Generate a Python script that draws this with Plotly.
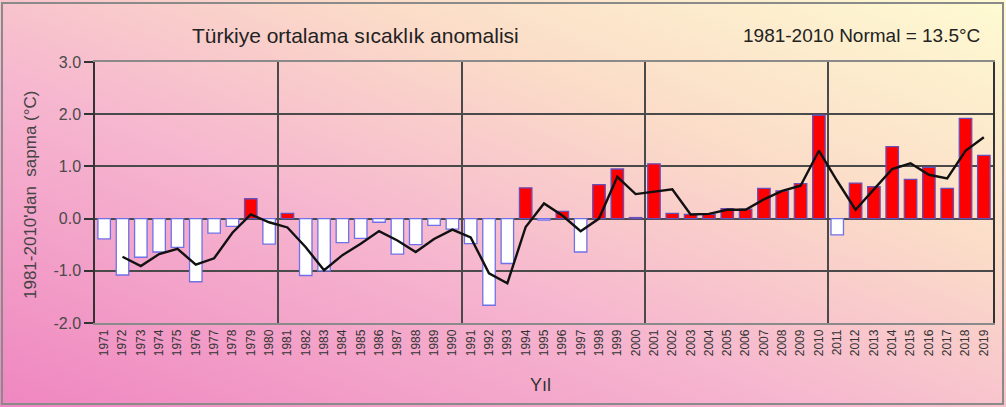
import base64
import plotly.graph_objects as go

years = list(range(1971, 2020))
anomaly = [
    -0.39, -1.08, -0.74, -0.64, -0.55, -1.21, -0.28, -0.15, 0.38, -0.49,   # 1971-1980
    0.10, -1.09, -1.00, -0.46, -0.38, -0.07, -0.68, -0.50, -0.13, -0.20,   # 1981-1990
    -0.48, -1.66, -0.86, 0.59, -0.03, 0.14, -0.64, 0.65, 0.95, 0.02,       # 1991-2000
    1.05, 0.10, 0.08, 0.08, 0.19, 0.18, 0.58, 0.53, 0.67, 1.98,            # 2001-2010
    -0.31, 0.68, 0.61, 1.38, 0.75, 0.98, 0.58, 1.92, 1.21,                 # 2011-2019
]
moving_avg = [
    None, -0.73, -0.91, -0.68, -0.58, -0.88, -0.76, -0.27, 0.08, -0.07,
    -0.17, -0.55, -0.99, -0.70, -0.48, -0.24, -0.42, -0.64, -0.39, -0.21,
    -0.36, -1.05, -1.24, -0.16, 0.29, 0.06, -0.24, 0.00, 0.80, 0.47,
    0.52, 0.56, 0.08, 0.09, 0.17, 0.17, 0.37, 0.53, 0.63, 1.30,
    0.72, 0.17, 0.56, 0.95, 1.06, 0.84, 0.77, 1.30, 1.56,
]
tick_labels = [str(y) for y in years]
decade_bounds = [1980.5, 1990.5, 2000.5, 2010.5]
y_ticks = [-2, -1, 0, 1, 2, 3]
y_tick_labels = ["-2.0", "-1.0", "0.0", "1.0", "2.0", "3.0"]

W, H = 1006, 407
L, R, T, B = 95, 13, 62, 84
pw, ph = W - L - R, H - T - B

bar_fill = ["#ff0000" if v >= 0 else "#ffffff" for v in anomaly]
bar_line = ["#6a4fb8" if v >= 0 else "#7070e8" for v in anomaly]

fig = go.Figure()
fig.add_trace(go.Bar(
    x=years, y=anomaly, width=0.68,
    marker=dict(color=bar_fill, line=dict(color=bar_line, width=1.3)),
    showlegend=False, hoverinfo="skip",
))
fig.add_trace(go.Scatter(
    x=years, y=moving_avg, mode="lines",
    line=dict(color="#111111", width=2.4),
    showlegend=False, hoverinfo="skip",
))

svg = f'''<svg xmlns="http://www.w3.org/2000/svg" width="{W}" height="{H}" viewBox="0 0 {W} {H}" preserveAspectRatio="none">
<defs><linearGradient id="g" x1="0" y1="1" x2="1" y2="0">
<stop offset="0" stop-color="#ef86c0"/>
<stop offset="0.4" stop-color="#f6b6cf"/>
<stop offset="0.68" stop-color="#fbdcc8"/>
<stop offset="1" stop-color="#fefbd2"/>
</linearGradient></defs>
<rect x="0" y="0" width="{W}" height="{H}" fill="url(#g)"/>
<rect x="2" y="3" width="{W-5}" height="{H-6}" fill="none" stroke="#8a8a8a" stroke-width="2"/>
</svg>'''
src = "data:image/svg+xml;base64," + base64.b64encode(svg.encode()).decode()

fig.update_layout(
    width=W, height=H,
    margin=dict(l=L, r=R, t=T, b=B, pad=0),
    paper_bgcolor="rgba(0,0,0,0)",
    plot_bgcolor="#ffffff",
    bargap=0.3,
    images=[dict(
        source=src, xref="paper", yref="paper",
        x=-L / pw, y=1 + T / ph, sizex=W / pw, sizey=H / ph,
        xanchor="left", yanchor="top", sizing="stretch", layer="below",
    )],
    xaxis=dict(
        range=[1970.5, 2019.5], tickmode="array", tickvals=years, ticktext=tick_labels,
        tickangle=-90, tickfont=dict(family="Arial", size=12, color="#333333"),
        showgrid=False, zeroline=False, ticks="", automargin=False,
        showline=True, linecolor="#8a8a8a", linewidth=1.5, mirror=True,
        minor=dict(tickmode="array", tickvals=decade_bounds, showgrid=True,
                   gridcolor="#4a4a4a", gridwidth=1.5, ticks=""),
    ),
    yaxis=dict(
        range=[-2, 3], tickmode="array", tickvals=y_ticks, ticktext=y_tick_labels,
        tickfont=dict(family="Arial", size=16, color="#4a4a4a"),
        showgrid=True, gridcolor="#4a4a4a", gridwidth=1.5, automargin=False,
        zeroline=True, zerolinecolor="#4a4a4a", zerolinewidth=1.5,
        ticks="outside", ticklen=9, tickcolor="#333333", tickwidth=1.5,
        showline=True, linecolor="#333333", linewidth=1.5, mirror=True,
    ),
    annotations=[
        dict(text="Türkiye ortalama sıcaklık anomalisi", xref="paper", yref="paper",
             x=(355 - L) / pw, y=1 + (T - 35) / ph, showarrow=False,
             xanchor="center", yanchor="middle",
             font=dict(family="Arial", size=21, color="#222222")),
        dict(text="1981-2010 Normal = 13.5°C", xref="paper", yref="paper",
             x=(861 - L) / pw, y=1 + (T - 35) / ph, showarrow=False,
             xanchor="center", yanchor="middle",
             font=dict(family="Arial", size=19, color="#222222")),
        dict(text="1981-2010'dan  sapma (°C)", xref="paper", yref="paper",
             x=(30 - L) / pw, y=(H - B - 195) / ph, showarrow=False, textangle=-90,
             xanchor="center", yanchor="middle",
             font=dict(family="Arial", size=17, color="#444444")),
        dict(text="Yıl", xref="paper", yref="paper",
             x=(540 - L) / pw, y=-(385 - (H - B)) / ph, showarrow=False,
             xanchor="center", yanchor="middle",
             font=dict(family="Arial", size=18, color="#333333")),
    ],
)

fig.write_html(
    "out.html",
    config={"displayModeBar": False},
    post_script="document.body.style.margin='0';document.body.style.overflow='hidden';",
)
